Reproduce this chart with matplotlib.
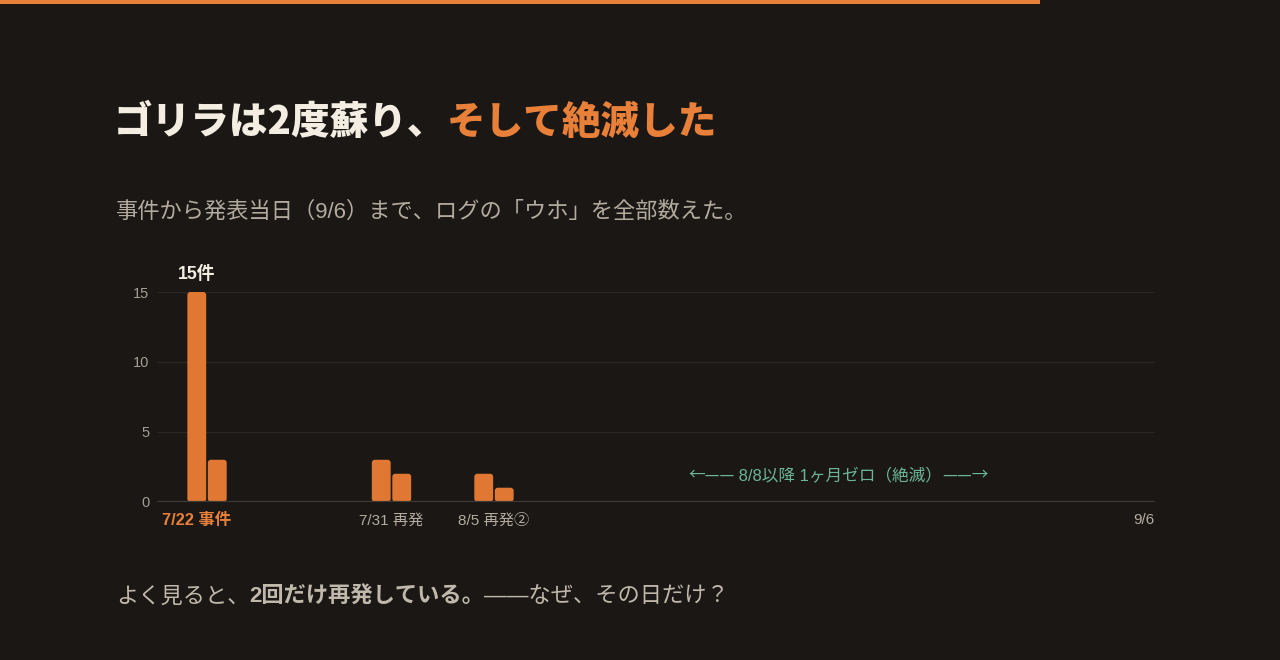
import matplotlib
matplotlib.use("Agg")
import matplotlib.pyplot as plt
from matplotlib.patches import FancyBboxPatch, Rectangle
from matplotlib.transforms import IdentityTransform
import pandas as pd

# ---- data ----
dates = pd.date_range("2024-07-22", "2024-09-06", freq="D")
counts = [15, 3, 0, 0, 0, 0, 0, 0, 0, 3, 2, 0, 0, 0, 2, 1,
          0, 0, 0, 0, 0, 0, 0, 0, 0, 0, 0, 0, 0, 0, 0, 0,
          0, 0, 0, 0, 0, 0, 0, 0, 0, 0, 0, 0, 0, 0, 0]
yticks = [0, 5, 10, 15]
xlabel_texts = ["7/22 事件", "7/31 再発", "8/5 再発②", "9/6"]
xlabel_dates = ["2024-07-22", "2024-07-31", "2024-08-05", "2024-09-06"]
peak_label = "15件"
zero_note_parts = ["←——", " 8/8以降 1ヶ月ゼロ（絶滅）", "——→"]
title_runs = [("ゴリラは2度蘇り、", "#f3ede2"), ("そして絶滅した", "#e8803a")]
subtitle = "事件から発表当日（9/6）まで、ログの「ウホ」を全部数えた。"
footer_runs = [("よく見ると、", "normal"), ("2回だけ再発している。", "bold"),
               ("——なぜ、その日だけ？", "normal")]

# ---- style ----
BG = "#1a1714"
ORANGE = "#e8803a"
BAR = "#e07733"
TEAL = "#6cb596"
CJK = ["Noto Sans CJK JP", "DejaVu Sans"]
MIX = ["Liberation Sans", "Noto Sans CJK JP", "DejaVu Sans"]
plt.rcParams["font.family"] = MIX

W, H = 1280, 660
fig = plt.figure(figsize=(W / 100, H / 100), dpi=100, facecolor=BG)

# top accent line
fig.patches.append(Rectangle((0, 1 - 4 / H), 1040 / W, 4 / H, transform=fig.transFigure,
                             facecolor=ORANGE, edgecolor="none", zorder=10))

renderer = fig.canvas.get_renderer()


def draw_runs(x_px, y_px, runs, size, center=False):
    """runs: (text, color, weight, family); y_px from the top, or display y if center."""
    items = []
    for text, color, weight, family in runs:
        t = fig.text(0, 0, text, color=color, fontsize=size, fontweight=weight,
                     va="center", ha="left", family=family, transform=IdentityTransform())
        items.append((t, t.get_window_extent(renderer=renderer).width))
    total = sum(w for _, w in items)
    x = x_px - total / 2 if center else x_px
    y = y_px if center else H - y_px
    for t, w in items:
        t.set_position((x, y))
        x += w


draw_runs(114, 122, [(t, c, "heavy", CJK) for t, c in title_runs], 27.8)
fig.text(116 / W, 1 - 212 / H, subtitle, color="#b3ab9f", fontsize=16,
         va="center", ha="left", family=MIX)
draw_runs(116, 597, [(t, "#c0b8ab", w, MIX) for t, w in footer_runs], 16)

# ---- chart ----
ax = fig.add_axes([157 / W, 158.3 / H, (1155 - 157) / W, (501.7 - 292) / H])
ax.set_facecolor(BG)
x = list(range(len(counts)))
bars = ax.bar(x, counts, width=0.92, color=BAR)
ax.set_xlim(-1.94, 46.75)
ax.set_ylim(0, 15)

px_x = (46.75 + 1.94) / (1155 - 157)
px_y = 15 / (501.7 - 292)
for r in bars:
    r.set_visible(False)
    if r.get_height() <= 0:
        continue
    p = FancyBboxPatch(r.get_xy(), r.get_width(), r.get_height(),
                       boxstyle=f"round,pad=0,rounding_size={3 * px_x}",
                       mutation_aspect=px_y / px_x,
                       facecolor=BAR, edgecolor="none", zorder=3)
    ax.add_patch(p)

for s in ax.spines.values():
    s.set_visible(False)
ax.set_yticks(yticks)
ax.set_yticklabels([str(v) for v in yticks])
ax.tick_params(axis="y", length=0, pad=5.5, labelsize=10.5, labelcolor="#a59e94")
ax.set_xticks([])
for v in yticks:
    if v == 0:
        ax.axhline(v, color="#403b36", lw=1.6, zorder=4)
    else:
        ax.axhline(v, color="#2a2622", lw=1, zorder=1)

# peak label
ax.annotate(peak_label, (0, counts[0]), xytext=(0, 6.5), textcoords="offset points",
            ha="center", va="bottom", color="#f3ede2", fontsize=12.8, fontweight="bold")

# x labels
idx = {d.strftime("%Y-%m-%d"): i for i, d in enumerate(dates)}
offsets = [0, 0.5, 0.5, 0]
for i, (txt, d) in enumerate(zip(xlabel_texts, xlabel_dates)):
    xi = idx[d] + offsets[i]
    kw = dict(color="#b3ab9f", fontsize=11, fontweight="normal", ha="center")
    if i == 0:
        kw.update(color=ORANGE, fontweight="bold", fontsize=11.8)
    if i == len(xlabel_texts) - 1:
        xi = ax.get_xlim()[1]
        kw.update(ha="right")
    ax.annotate(txt, (xi, 0), xytext=(0, -13.5), textcoords="offset points",
                va="center", annotation_clip=False, **kw)

# zero note (centred at a data position)
cx, cy = ax.transData.transform((31.3, 1.9))
draw_runs(cx, cy, [(zero_note_parts[0], TEAL, "normal", CJK),
                   (zero_note_parts[1], TEAL, "normal", MIX),
                   (zero_note_parts[2], TEAL, "normal", CJK)], 12, center=True)

fig.savefig("out.png", dpi=100, facecolor=BG)
